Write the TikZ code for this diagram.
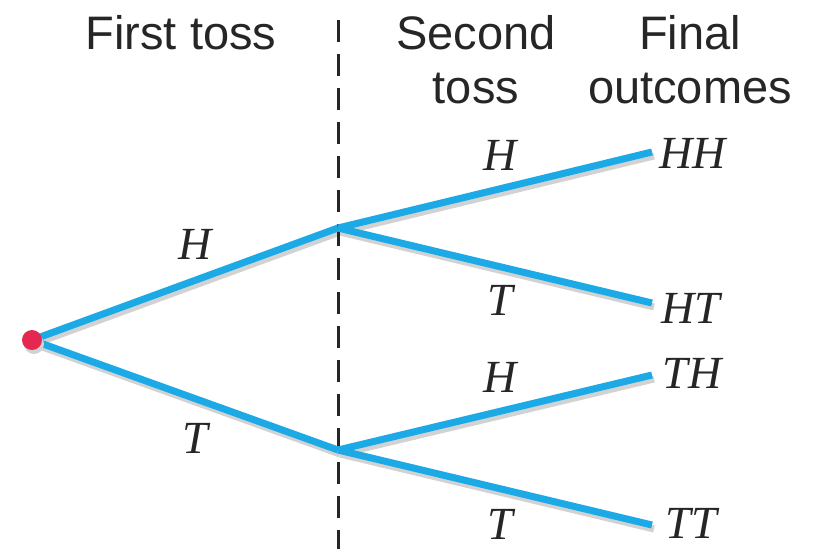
\documentclass[tikz,border=0pt]{standalone}
\usepackage{fontspec}
\setmainfont{Liberation Serif}
\newfontfamily\hdfont{Liberation Sans}
\definecolor{branch}{RGB}{28,170,230}
\definecolor{shadowgray}{RGB}{210,210,210}
\definecolor{dotred}{RGB}{228,40,80}
\begin{document}
\begin{tikzpicture}[x=1pt,y=-1pt,
  hdr/.style={font=\hdfont\fontsize{47}{54}\selectfont, text=black!85, align=center, inner sep=0pt},
  lbl/.style={font=\itshape\fontsize{46}{50}\selectfont, text=black!85, inner sep=0pt},
  br/.style={line width=7pt, branch},
  shd/.style={line width=7pt, shadowgray},
  divider/.style={line width=3pt, black!85, dash pattern=on 22pt off 12pt}]
\useasboundingbox (0,0) rectangle (814,549);
\fill[white] (0,0) rectangle (814,549);
% coordinates
\coordinate (root) at (32,340);
\coordinate (a) at (338,228);
\coordinate (b) at (338,450);
\coordinate (hh) at (652,152);
\coordinate (ht) at (652,303);
\coordinate (th) at (652,375);
\coordinate (tt) at (652,525);
\coordinate (dtop) at (338,20);
\coordinate (dbot) at (338,549);
% headers
\node[hdr] (h1) at (181,33) {First toss};
\node[hdr] (h2) at (476,60) {Second\\toss};
\node[hdr] (h3) at (690,60) {Final\\outcomes};
% shadows
\tikzset{sh/.style={shift={(2,4)}}}
\draw[shd] ([sh]root) -- ([sh]a);
\draw[shd] ([sh]root) -- ([sh]b);
\draw[shd] ([sh]a) -- ([sh]hh);
\draw[shd] ([sh]a) -- ([sh]ht);
\draw[shd] ([sh]b) -- ([sh]th);
\draw[shd] ([sh]b) -- ([sh]tt);
% divider
\draw[divider] (dtop) -- (dbot);
% branches
\draw[br] (root) -- (a);
\draw[br] (root) -- (b);
\draw[br] (a) -- (hh);
\draw[br] (a) -- (ht);
\draw[br] (b) -- (th);
\draw[br] (b) -- (tt);
\fill[shadowgray] ([sh]root) circle (10);
\fill[dotred] (root) circle (10);
% labels
\node[lbl] (l1) at (195,244) {H};
\node[lbl] (l2) at (195,438) {T};
\node[lbl] (l3) at (500,155) {H};
\node[lbl] (l4) at (500,300) {T};
\node[lbl] (l5) at (500,377) {H};
\node[lbl] (l6) at (500,524) {T};
% outcomes
\node[lbl] (o1) at (693,153) {HH};
\node[lbl] (o2) at (691,308) {HT};
\node[lbl] (o3) at (692,373) {TH};
\node[lbl] (o4) at (691,523) {TT};
\end{tikzpicture}
\end{document}
